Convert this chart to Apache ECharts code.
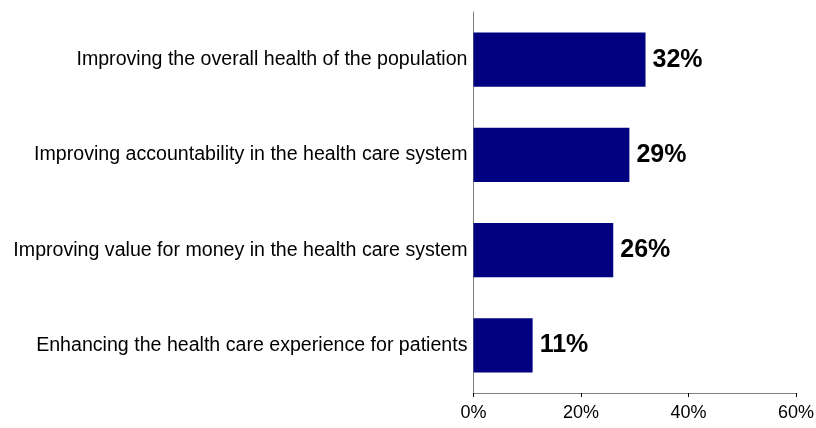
<!DOCTYPE html>
<html>
<head>
<meta charset="utf-8">
<script src="https://cdn.jsdelivr.net/npm/echarts@6/dist/echarts.min.js"></script>
<style>
html,body{margin:0;padding:0;background:#fff;}
#c{width:816px;height:428px;}
</style>
</head>
<body>
<div id="c"></div>
<script>
var categories = [
  "Improving the overall health of the population",
  "Improving accountability in the health care system",
  "Improving value for money in the health care system",
  "Enhancing the health care experience for patients"
];
var values = [32, 29, 26, 11];
var xTicks = [0, 20, 40, 60];

var chart = echarts.init(document.getElementById('c'), null, {renderer: 'canvas'});
chart.setOption({
  animation: false,
  backgroundColor: '#ffffff',
  grid: {left: 473.5, right: 20, top: 12, bottom: 35, containLabel: false, outerBoundsMode: 'none'},
  xAxis: {
    type: 'value',
    min: xTicks[0],
    max: xTicks[xTicks.length - 1],
    interval: xTicks[1] - xTicks[0],
    splitLine: {show: false},
    axisLine: {show: true, lineStyle: {color: '#808080', width: 1}},
    axisTick: {show: true, length: 4, lineStyle: {color: '#000000', width: 1}},
    axisLabel: {
      formatter: function (v) { return v + '%'; },
      color: '#000000',
      fontFamily: 'Liberation Sans, Arial, sans-serif',
      fontSize: 18,
      margin: 11
    }
  },
  yAxis: {
    type: 'category',
    data: categories,
    inverse: true,
    axisLine: {show: true, lineStyle: {color: '#808080', width: 1}},
    axisTick: {show: false},
    axisLabel: {
      color: '#000000',
      fontFamily: "'Liberation Sans', Arial, sans-serif",
      fontSize: 19.6,
      margin: 6
    }
  },
  series: [{
    type: 'bar',
    data: values,
    barWidth: '57%',
    itemStyle: {color: '#000080'},
    label: {
      show: true,
      position: 'right',
      distance: 7,
      formatter: function (p) { return p.value + '%'; },
      color: '#000000',
      fontWeight: 'bold',
      fontFamily: 'Liberation Sans, Arial, sans-serif',
      fontSize: 25
    }
  }]
});
</script>
</body>
</html>
